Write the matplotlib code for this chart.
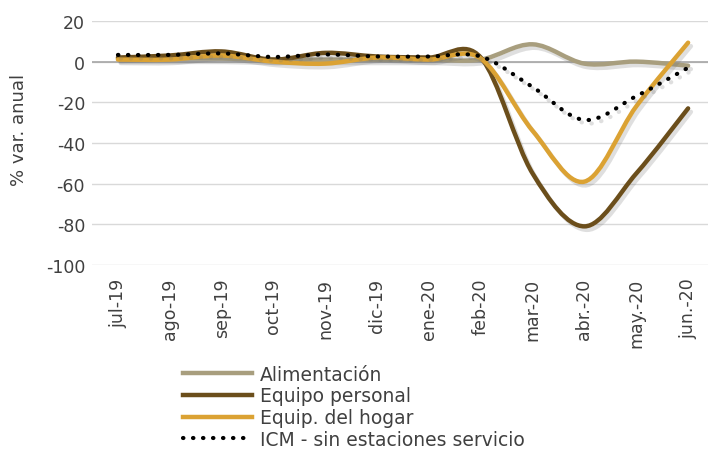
import numpy as np
import matplotlib.pyplot as plt
from matplotlib.path import Path
from matplotlib.patches import PathPatch
from matplotlib.lines import Line2D
import matplotlib.patheffects as pe

plt.rcParams['font.family'] = ['DejaVu Sans']
plt.rcParams['axes.unicode_minus'] = False

meses = ["jul-19", "ago-19", "sep-19", "oct-19", "nov-19", "dic-19",
         "ene-20", "feb-20", "mar-20", "abr.-20", "may.-20", "jun.-20"]

alimentacion = [1.5, 1.5, 1.5, 1.0, 1.0, 1.0, 1.0, 1.0, 8.5, -1.0, 0.0, -2.0]
equipo_personal = [2.0, 3.0, 5.0, 1.0, 4.3, 2.5, 2.0, 2.0, -55, -81, -55, -23]
equip_hogar = [1.0, 1.0, 3.0, 0.0, -1.0, 2.0, 1.0, 1.5, -34, -59, -22, 9.3]
icm = [3.3, 3.3, 4.0, 2.3, 3.5, 2.5, 2.5, 2.5, -12.5, -28.7, -17, -3]

series = [
    ("Alimentación", alimentacion, "#A89E7E", "-", 3.2),
    ("Equipo personal", equipo_personal, "#6B4E1B", "-", 3.2),
    ("Equip. del hogar", equip_hogar, "#DBA233", "-", 3.2),
    ("ICM - sin estaciones servicio", icm, "black", ":", 3.0),
]


def smooth_path(x, y):
    # curva tipo Excel "línea suavizada" (Catmull-Rom -> Bezier)
    x = np.asarray(x, float)
    y = np.asarray(y, float)
    verts = [(x[0], y[0])]
    codes = [Path.MOVETO]
    n = len(x)
    for i in range(n - 1):
        x0, y0 = (x[i - 1], y[i - 1]) if i > 0 else (x[i], y[i])
        x3, y3 = (x[i + 2], y[i + 2]) if i + 2 < n else (x[i + 1], y[i + 1])
        c1 = (x[i] + (x[i + 1] - x0) / 6, y[i] + (y[i + 1] - y0) / 6)
        c2 = (x[i + 1] - (x3 - x[i]) / 6, y[i + 1] - (y3 - y[i]) / 6)
        verts += [c1, c2, (x[i + 1], y[i + 1])]
        codes += [Path.CURVE4] * 3
    return Path(verts, codes)


fig = plt.figure(figsize=(7.08, 4.52), dpi=100)
ax = fig.add_axes([0.13, 0.4115, 0.8785, 0.54])

xs = np.arange(len(meses))
ax.set_xlim(-0.5, len(meses) - 0.5)
ax.set_ylim(-100, 20)
ax.set_yticks(range(-100, 21, 20))
ax.yaxis.grid(True, color="#D9D9D9", lw=1)
ax.set_axisbelow(True)
ax.axhline(0, color="#A6A6A6", lw=1.2, zorder=1)
for s in ax.spines.values():
    s.set_visible(False)
ax.tick_params(length=0, labelsize=12.5, colors="#404040")
ax.set_xticks(xs)
ax.set_xticklabels(meses, rotation=90)
ax.tick_params(axis="x", pad=9)
ax.tick_params(axis="y", pad=5)
ax.set_ylabel("% var. anual", fontsize=13, color="#404040")
ax.yaxis.set_label_coords(-0.103, 0.557)

shadow = [pe.SimpleLineShadow(offset=(2, -2.5), shadow_color="#707070", alpha=0.22),
          pe.Normal()]
handles = []
for name, vals, color, ls, lw in series:
    patch = PathPatch(smooth_path(xs, vals), fill=False, edgecolor=color,
                      lw=lw, linestyle=ls, capstyle="round", zorder=3)
    if ls == ":":
        patch.set_linestyle((0, (0.1, 2.3)))
        patch.set_capstyle("round")
    patch.set_path_effects(shadow)
    ax.add_patch(patch)
    h = Line2D([], [], color=color, lw=lw, linestyle=ls)
    if ls == ":":
        h.set_linestyle((0, (0.1, 2.3)))
        h.set_dash_capstyle("round")
    handles.append(h)

fig.legend(handles, [s[0] for s in series], loc="upper left",
           bbox_to_anchor=(0.245, 0.212), frameon=False, fontsize=13.5,
           handlelength=3.7, handletextpad=0.43, labelspacing=0.15,
           labelcolor="#404040", borderpad=0)

fig.savefig("out.png", dpi=100)
